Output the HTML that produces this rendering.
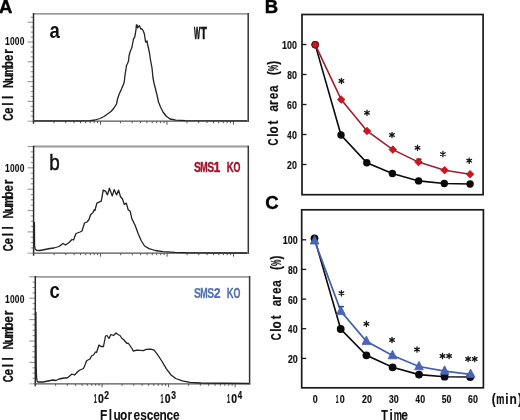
<!DOCTYPE html><html><head><meta charset="utf-8"><style>html,body{margin:0;padding:0;background:#fff;width:520px;height:420px;overflow:hidden}svg{display:block}text{font-family:"Liberation Sans",sans-serif}</style></head><body>
<div style="width:520px;height:420px;will-change:transform"><svg width="520" height="420" viewBox="0 0 520 420">
<rect width="520" height="420" fill="#fff"/>
<text x="-0.9" y="12.6" font-size="18.5" font-weight="bold" stroke="#000" stroke-width="0.4">A</text>
<text x="264.8" y="12.7" font-size="18.5" font-weight="bold" stroke="#000" stroke-width="0.4">B</text>
<text x="265.2" y="209.1" font-size="18.5" font-weight="bold" stroke="#000" stroke-width="0.4">C</text>
<g stroke="#9a9a9a" stroke-width="1.15">
<line x1="30.7" y1="17.2" x2="33.5" y2="17.2"/><line x1="27.5" y1="22.2" x2="33.5" y2="22.2"/><line x1="30.7" y1="27.1" x2="33.5" y2="27.1"/><line x1="30.7" y1="32.1" x2="33.5" y2="32.1"/><line x1="30.7" y1="37.0" x2="33.5" y2="37.0"/><line x1="27.5" y1="42.0" x2="33.5" y2="42.0"/><line x1="30.7" y1="47.0" x2="33.5" y2="47.0"/><line x1="30.7" y1="51.9" x2="33.5" y2="51.9"/><line x1="30.7" y1="56.9" x2="33.5" y2="56.9"/><line x1="27.5" y1="61.8" x2="33.5" y2="61.8"/><line x1="30.7" y1="66.8" x2="33.5" y2="66.8"/><line x1="30.7" y1="71.7" x2="33.5" y2="71.7"/><line x1="30.7" y1="76.7" x2="33.5" y2="76.7"/><line x1="27.5" y1="81.6" x2="33.5" y2="81.6"/><line x1="30.7" y1="86.5" x2="33.5" y2="86.5"/><line x1="30.7" y1="91.5" x2="33.5" y2="91.5"/><line x1="30.7" y1="96.5" x2="33.5" y2="96.5"/><line x1="27.5" y1="101.4" x2="33.5" y2="101.4"/><line x1="30.7" y1="106.4" x2="33.5" y2="106.4"/><line x1="30.7" y1="111.3" x2="33.5" y2="111.3"/><line x1="30.7" y1="116.2" x2="33.5" y2="116.2"/>
</g>
<line x1="27.5" y1="121.2" x2="33.5" y2="121.2" stroke="#a8a8a8" stroke-width="1.1"/>
<g stroke="#555" stroke-width="1">
<line x1="54.0" y1="121.2" x2="54.0" y2="123.2"/><line x1="65.7" y1="121.2" x2="65.7" y2="123.2"/><line x1="74.0" y1="121.2" x2="74.0" y2="123.2"/><line x1="80.5" y1="121.2" x2="80.5" y2="123.2"/><line x1="85.7" y1="121.2" x2="85.7" y2="123.2"/><line x1="90.2" y1="121.2" x2="90.2" y2="123.2"/><line x1="94.1" y1="121.2" x2="94.1" y2="123.2"/><line x1="97.5" y1="121.2" x2="97.5" y2="123.2"/><line x1="100.5" y1="121.2" x2="100.5" y2="124.7"/><line x1="120.5" y1="121.2" x2="120.5" y2="123.2"/><line x1="132.2" y1="121.2" x2="132.2" y2="123.2"/><line x1="140.5" y1="121.2" x2="140.5" y2="123.2"/><line x1="147.0" y1="121.2" x2="147.0" y2="123.2"/><line x1="152.2" y1="121.2" x2="152.2" y2="123.2"/><line x1="156.7" y1="121.2" x2="156.7" y2="123.2"/><line x1="160.6" y1="121.2" x2="160.6" y2="123.2"/><line x1="164.0" y1="121.2" x2="164.0" y2="123.2"/><line x1="167.0" y1="121.2" x2="167.0" y2="124.7"/><line x1="187.0" y1="121.2" x2="187.0" y2="123.2"/><line x1="198.7" y1="121.2" x2="198.7" y2="123.2"/><line x1="207.0" y1="121.2" x2="207.0" y2="123.2"/><line x1="213.5" y1="121.2" x2="213.5" y2="123.2"/><line x1="218.7" y1="121.2" x2="218.7" y2="123.2"/><line x1="223.2" y1="121.2" x2="223.2" y2="123.2"/><line x1="227.1" y1="121.2" x2="227.1" y2="123.2"/><line x1="230.5" y1="121.2" x2="230.5" y2="123.2"/><line x1="233.5" y1="121.2" x2="233.5" y2="124.7"/>
</g>
<line x1="33.5" y1="13.9" x2="248.2" y2="13.9" stroke="#9c9c9c" stroke-width="1.8"/>
<line x1="33.5" y1="13.1" x2="33.5" y2="123.7" stroke="#2a2a2a" stroke-width="1.5"/>
<line x1="248.2" y1="13.1" x2="248.2" y2="121.9" stroke="#333" stroke-width="1.5"/>
<line x1="32.8" y1="121.2" x2="248.9" y2="121.2" stroke="#555" stroke-width="1.3"/>
<polyline fill="none" stroke="#222" stroke-width="1.3" stroke-linejoin="round" points="34.0,120.8 80.0,120.8 90.0,120.6 95.0,120.0 100.0,118.5 104.0,116.5 107.5,114.0 111.0,111.5 114.0,108.0 116.5,104.0 117.5,99.0 119.0,94.5 121.5,89.0 124.0,83.0 124.5,80.0 125.0,75.0 126.0,69.0 126.5,65.5 127.5,63.5 128.5,61.0 129.0,56.0 130.0,52.0 131.5,48.5 132.0,47.0 133.3,40.0 133.6,38.5 134.5,37.8 135.3,34.0 136.0,29.4 136.4,24.9 137.2,25.2 137.6,27.9 138.3,26.8 139.5,25.6 140.2,27.9 141.0,29.0 142.1,29.0 143.3,31.0 144.4,34.0 145.2,39.3 145.6,42.0 146.7,42.0 147.1,40.8 147.5,43.9 148.0,46.0 149.5,53.0 150.5,60.0 152.0,68.0 153.0,78.0 154.0,83.0 155.5,89.0 157.0,95.0 158.5,102.0 160.5,107.0 163.0,112.0 166.0,116.0 170.0,119.0 175.8,120.2 185.4,120.7 247.0,120.9"/>
<text transform="translate(49.6,38.0) scale(0.86,1)" font-size="21.5" font-weight="bold" fill="#111">a</text>
<text transform="translate(193.90,38.50) scale(0.403,1)" font-size="16.30" font-weight="bold" fill="#111" stroke="#111" stroke-width="0.65">W</text><text transform="translate(200.39,38.50) scale(0.645,1)" font-size="16.30" font-weight="bold" fill="#111" stroke="#111" stroke-width="0.65">T</text>
<text transform="translate(4.89,44.80) scale(0.774,1)" font-size="11.00" font-weight="bold" fill="#111" stroke="#111" stroke-width="0.10">1</text><text transform="translate(9.96,44.80) scale(0.766,1)" font-size="11.00" font-weight="bold" fill="#111" stroke="#111" stroke-width="0.10">0</text><text transform="translate(14.86,44.80) scale(0.766,1)" font-size="11.00" font-weight="bold" fill="#111" stroke="#111" stroke-width="0.10">0</text><text transform="translate(19.76,44.80) scale(0.766,1)" font-size="11.00" font-weight="bold" fill="#111" stroke="#111" stroke-width="0.10">0</text>
<g transform="translate(12.70,117.25) rotate(-90)"><text transform="translate(-3.53,0.00) scale(0.687,1)" font-size="14.00" font-weight="bold" fill="#111" stroke="#111" stroke-width="0.30">C</text><text transform="translate(3.27,0.00) scale(0.850,1)" font-size="14.00" font-weight="bold" fill="#111" stroke="#111" stroke-width="0.30">e</text><text transform="translate(11.53,0.00) scale(0.850,1)" font-size="14.00" font-weight="bold" fill="#111" stroke="#111" stroke-width="0.30">l</text><text transform="translate(18.13,0.00) scale(0.850,1)" font-size="14.00" font-weight="bold" fill="#111" stroke="#111" stroke-width="0.30">l</text><text transform="translate(29.16,0.00) scale(0.763,1)" font-size="14.00" font-weight="bold" fill="#111" stroke="#111" stroke-width="0.30">N</text><text transform="translate(36.00,0.00) scale(0.850,1)" font-size="14.00" font-weight="bold" fill="#111" stroke="#111" stroke-width="0.30">u</text><text transform="translate(41.99,0.00) scale(0.672,1)" font-size="14.00" font-weight="bold" fill="#111" stroke="#111" stroke-width="0.30">m</text><text transform="translate(49.02,0.00) scale(0.850,1)" font-size="14.00" font-weight="bold" fill="#111" stroke="#111" stroke-width="0.30">b</text><text transform="translate(56.07,0.00) scale(0.850,1)" font-size="14.00" font-weight="bold" fill="#111" stroke="#111" stroke-width="0.30">e</text><text transform="translate(63.38,0.00) scale(0.850,1)" font-size="14.00" font-weight="bold" fill="#111" stroke="#111" stroke-width="0.30">r</text></g>
<g stroke="#9a9a9a" stroke-width="1.15">
<line x1="27.6" y1="146.5" x2="33.6" y2="146.5"/><line x1="30.8" y1="151.8" x2="33.6" y2="151.8"/><line x1="30.8" y1="157.2" x2="33.6" y2="157.2"/><line x1="30.8" y1="162.5" x2="33.6" y2="162.5"/><line x1="27.6" y1="167.8" x2="33.6" y2="167.8"/><line x1="30.8" y1="173.2" x2="33.6" y2="173.2"/><line x1="30.8" y1="178.5" x2="33.6" y2="178.5"/><line x1="30.8" y1="183.8" x2="33.6" y2="183.8"/><line x1="27.6" y1="189.2" x2="33.6" y2="189.2"/><line x1="30.8" y1="194.5" x2="33.6" y2="194.5"/><line x1="30.8" y1="199.8" x2="33.6" y2="199.8"/><line x1="30.8" y1="205.2" x2="33.6" y2="205.2"/><line x1="27.6" y1="210.5" x2="33.6" y2="210.5"/><line x1="30.8" y1="215.9" x2="33.6" y2="215.9"/><line x1="30.8" y1="221.2" x2="33.6" y2="221.2"/><line x1="30.8" y1="226.5" x2="33.6" y2="226.5"/><line x1="27.6" y1="231.9" x2="33.6" y2="231.9"/><line x1="30.8" y1="237.2" x2="33.6" y2="237.2"/><line x1="30.8" y1="242.5" x2="33.6" y2="242.5"/><line x1="30.8" y1="247.9" x2="33.6" y2="247.9"/>
</g>
<line x1="27.6" y1="253.2" x2="33.6" y2="253.2" stroke="#a8a8a8" stroke-width="1.1"/>
<g stroke="#555" stroke-width="1">
<line x1="54.1" y1="253.2" x2="54.1" y2="255.2"/><line x1="65.8" y1="253.2" x2="65.8" y2="255.2"/><line x1="74.1" y1="253.2" x2="74.1" y2="255.2"/><line x1="80.6" y1="253.2" x2="80.6" y2="255.2"/><line x1="85.8" y1="253.2" x2="85.8" y2="255.2"/><line x1="90.3" y1="253.2" x2="90.3" y2="255.2"/><line x1="94.2" y1="253.2" x2="94.2" y2="255.2"/><line x1="97.6" y1="253.2" x2="97.6" y2="255.2"/><line x1="100.6" y1="253.2" x2="100.6" y2="256.7"/><line x1="120.6" y1="253.2" x2="120.6" y2="255.2"/><line x1="132.3" y1="253.2" x2="132.3" y2="255.2"/><line x1="140.6" y1="253.2" x2="140.6" y2="255.2"/><line x1="147.1" y1="253.2" x2="147.1" y2="255.2"/><line x1="152.3" y1="253.2" x2="152.3" y2="255.2"/><line x1="156.8" y1="253.2" x2="156.8" y2="255.2"/><line x1="160.7" y1="253.2" x2="160.7" y2="255.2"/><line x1="164.1" y1="253.2" x2="164.1" y2="255.2"/><line x1="167.1" y1="253.2" x2="167.1" y2="256.7"/><line x1="187.1" y1="253.2" x2="187.1" y2="255.2"/><line x1="198.8" y1="253.2" x2="198.8" y2="255.2"/><line x1="207.1" y1="253.2" x2="207.1" y2="255.2"/><line x1="213.6" y1="253.2" x2="213.6" y2="255.2"/><line x1="218.8" y1="253.2" x2="218.8" y2="255.2"/><line x1="223.3" y1="253.2" x2="223.3" y2="255.2"/><line x1="227.2" y1="253.2" x2="227.2" y2="255.2"/><line x1="230.6" y1="253.2" x2="230.6" y2="255.2"/><line x1="233.6" y1="253.2" x2="233.6" y2="256.7"/>
</g>
<line x1="33.6" y1="146.5" x2="248.3" y2="146.5" stroke="#9c9c9c" stroke-width="1.8"/>
<line x1="33.6" y1="145.7" x2="33.6" y2="255.7" stroke="#2a2a2a" stroke-width="1.5"/>
<line x1="248.3" y1="145.7" x2="248.3" y2="253.9" stroke="#333" stroke-width="1.5"/>
<line x1="32.9" y1="253.2" x2="249.0" y2="253.2" stroke="#555" stroke-width="1.3"/>
<polyline fill="none" stroke="#222" stroke-width="1.3" stroke-linejoin="round" points="34.4,222.0 34.6,246.0 35.2,249.2 36.5,250.3 40.0,250.5 45.0,249.5 50.0,248.5 54.0,248.0 59.0,246.5 63.0,243.5 65.5,245.0 69.0,242.5 72.0,239.5 73.5,240.0 76.0,233.5 80.0,232.0 82.0,231.0 84.5,223.0 87.0,222.0 89.0,219.5 90.5,215.0 93.0,212.4 94.3,209.8 94.9,210.5 96.9,203.2 101.3,201.2 103.2,190.1 105.6,191.1 107.5,194.9 109.4,188.2 112.3,195.9 114.2,189.6 116.6,194.9 118.6,190.1 120.5,196.8 122.4,198.8 124.3,204.5 126.3,203.1 128.2,209.8 130.2,211.3 131.9,218.9 135.1,225.2 138.3,234.0 141.4,241.0 144.6,246.0 149.0,248.6 155.3,250.5 162.9,251.7 175.0,252.4 190.0,252.8 247.0,253.0"/>
<text transform="translate(49.3,169.8) scale(0.88,1)" font-size="21.5" fill="#111" stroke="#111" stroke-width="0.45">b</text>
<text transform="translate(193.99,172.00) scale(0.713,1)" font-size="14.50" font-weight="bold" fill="#a3132b" stroke="#a3132b" stroke-width="0.40">S</text><text transform="translate(200.32,172.00) scale(0.611,1)" font-size="14.50" font-weight="bold" fill="#a3132b" stroke="#a3132b" stroke-width="0.40">M</text><text transform="translate(207.19,172.00) scale(0.713,1)" font-size="14.50" font-weight="bold" fill="#a3132b" stroke="#a3132b" stroke-width="0.40">S</text><text transform="translate(213.56,172.00) scale(0.850,1)" font-size="14.50" font-weight="bold" fill="#a3132b" stroke="#a3132b" stroke-width="0.40">1</text><text transform="translate(226.68,172.00) scale(0.663,1)" font-size="14.50" font-weight="bold" fill="#a3132b" stroke="#a3132b" stroke-width="0.40">K</text><text transform="translate(233.54,172.00) scale(0.615,1)" font-size="14.50" font-weight="bold" fill="#a3132b" stroke="#a3132b" stroke-width="0.40">O</text>
<text transform="translate(4.89,171.90) scale(0.774,1)" font-size="11.00" font-weight="bold" fill="#111" stroke="#111" stroke-width="0.10">1</text><text transform="translate(9.96,171.90) scale(0.766,1)" font-size="11.00" font-weight="bold" fill="#111" stroke="#111" stroke-width="0.10">0</text><text transform="translate(14.86,171.90) scale(0.766,1)" font-size="11.00" font-weight="bold" fill="#111" stroke="#111" stroke-width="0.10">0</text><text transform="translate(19.76,171.90) scale(0.766,1)" font-size="11.00" font-weight="bold" fill="#111" stroke="#111" stroke-width="0.10">0</text>
<g transform="translate(12.70,247.75) rotate(-90)"><text transform="translate(-3.53,0.00) scale(0.687,1)" font-size="14.00" font-weight="bold" fill="#111" stroke="#111" stroke-width="0.30">C</text><text transform="translate(3.27,0.00) scale(0.850,1)" font-size="14.00" font-weight="bold" fill="#111" stroke="#111" stroke-width="0.30">e</text><text transform="translate(11.53,0.00) scale(0.850,1)" font-size="14.00" font-weight="bold" fill="#111" stroke="#111" stroke-width="0.30">l</text><text transform="translate(18.13,0.00) scale(0.850,1)" font-size="14.00" font-weight="bold" fill="#111" stroke="#111" stroke-width="0.30">l</text><text transform="translate(29.16,0.00) scale(0.763,1)" font-size="14.00" font-weight="bold" fill="#111" stroke="#111" stroke-width="0.30">N</text><text transform="translate(36.00,0.00) scale(0.850,1)" font-size="14.00" font-weight="bold" fill="#111" stroke="#111" stroke-width="0.30">u</text><text transform="translate(41.99,0.00) scale(0.672,1)" font-size="14.00" font-weight="bold" fill="#111" stroke="#111" stroke-width="0.30">m</text><text transform="translate(49.02,0.00) scale(0.850,1)" font-size="14.00" font-weight="bold" fill="#111" stroke="#111" stroke-width="0.30">b</text><text transform="translate(56.07,0.00) scale(0.850,1)" font-size="14.00" font-weight="bold" fill="#111" stroke="#111" stroke-width="0.30">e</text><text transform="translate(63.38,0.00) scale(0.850,1)" font-size="14.00" font-weight="bold" fill="#111" stroke="#111" stroke-width="0.30">r</text></g>
<g stroke="#9a9a9a" stroke-width="1.15">
<line x1="29.3" y1="276.8" x2="35.3" y2="276.8"/><line x1="32.5" y1="282.2" x2="35.3" y2="282.2"/><line x1="32.5" y1="287.5" x2="35.3" y2="287.5"/><line x1="32.5" y1="292.9" x2="35.3" y2="292.9"/><line x1="29.3" y1="298.2" x2="35.3" y2="298.2"/><line x1="32.5" y1="303.6" x2="35.3" y2="303.6"/><line x1="32.5" y1="308.9" x2="35.3" y2="308.9"/><line x1="32.5" y1="314.2" x2="35.3" y2="314.2"/><line x1="29.3" y1="319.6" x2="35.3" y2="319.6"/><line x1="32.5" y1="324.9" x2="35.3" y2="324.9"/><line x1="32.5" y1="330.3" x2="35.3" y2="330.3"/><line x1="32.5" y1="335.6" x2="35.3" y2="335.6"/><line x1="29.3" y1="341.0" x2="35.3" y2="341.0"/><line x1="32.5" y1="346.4" x2="35.3" y2="346.4"/><line x1="32.5" y1="351.7" x2="35.3" y2="351.7"/><line x1="32.5" y1="357.1" x2="35.3" y2="357.1"/><line x1="29.3" y1="362.4" x2="35.3" y2="362.4"/><line x1="32.5" y1="367.8" x2="35.3" y2="367.8"/><line x1="32.5" y1="373.1" x2="35.3" y2="373.1"/><line x1="32.5" y1="378.4" x2="35.3" y2="378.4"/>
</g>
<line x1="29.3" y1="383.8" x2="35.3" y2="383.8" stroke="#a8a8a8" stroke-width="1.1"/>
<g stroke="#555" stroke-width="1">
<line x1="55.6" y1="383.8" x2="55.6" y2="385.8"/><line x1="67.3" y1="383.8" x2="67.3" y2="385.8"/><line x1="75.6" y1="383.8" x2="75.6" y2="385.8"/><line x1="82.1" y1="383.8" x2="82.1" y2="385.8"/><line x1="87.3" y1="383.8" x2="87.3" y2="385.8"/><line x1="91.8" y1="383.8" x2="91.8" y2="385.8"/><line x1="95.7" y1="383.8" x2="95.7" y2="385.8"/><line x1="99.1" y1="383.8" x2="99.1" y2="385.8"/><line x1="102.1" y1="383.8" x2="102.1" y2="387.3"/><line x1="122.1" y1="383.8" x2="122.1" y2="385.8"/><line x1="133.8" y1="383.8" x2="133.8" y2="385.8"/><line x1="142.1" y1="383.8" x2="142.1" y2="385.8"/><line x1="148.6" y1="383.8" x2="148.6" y2="385.8"/><line x1="153.8" y1="383.8" x2="153.8" y2="385.8"/><line x1="158.3" y1="383.8" x2="158.3" y2="385.8"/><line x1="162.2" y1="383.8" x2="162.2" y2="385.8"/><line x1="165.6" y1="383.8" x2="165.6" y2="385.8"/><line x1="168.6" y1="383.8" x2="168.6" y2="387.3"/><line x1="188.6" y1="383.8" x2="188.6" y2="385.8"/><line x1="200.3" y1="383.8" x2="200.3" y2="385.8"/><line x1="208.6" y1="383.8" x2="208.6" y2="385.8"/><line x1="215.1" y1="383.8" x2="215.1" y2="385.8"/><line x1="220.3" y1="383.8" x2="220.3" y2="385.8"/><line x1="224.8" y1="383.8" x2="224.8" y2="385.8"/><line x1="228.7" y1="383.8" x2="228.7" y2="385.8"/><line x1="232.1" y1="383.8" x2="232.1" y2="385.8"/><line x1="235.1" y1="383.8" x2="235.1" y2="387.3"/>
</g>
<line x1="35.3" y1="276.8" x2="249.6" y2="276.8" stroke="#9c9c9c" stroke-width="1.8"/>
<line x1="35.3" y1="276.0" x2="35.3" y2="386.3" stroke="#2a2a2a" stroke-width="1.5"/>
<line x1="249.6" y1="276.0" x2="249.6" y2="384.5" stroke="#333" stroke-width="1.5"/>
<line x1="34.6" y1="383.8" x2="250.3" y2="383.8" stroke="#555" stroke-width="1.3"/>
<polyline fill="none" stroke="#222" stroke-width="1.3" stroke-linejoin="round" points="35.9,312.0 36.2,366.0 36.5,376.0 37.0,381.0 38.0,382.0 43.0,382.0 48.0,381.0 53.0,380.0 56.0,380.5 59.0,379.0 64.0,378.0 67.0,378.0 69.0,376.5 72.0,374.0 74.5,375.0 78.0,371.5 80.0,370.0 83.5,368.5 85.0,365.0 86.5,361.0 87.0,360.5 90.0,359.0 91.5,356.0 93.5,355.0 95.5,352.0 96.5,352.5 99.0,345.0 101.0,346.5 103.5,346.5 105.5,336.0 107.0,335.5 109.0,338.5 111.0,334.5 113.5,335.5 116.0,333.0 118.0,334.5 120.0,335.5 122.0,338.5 124.0,340.0 126.5,343.0 128.5,343.5 132.0,348.5 133.2,351.0 137.0,350.2 143.2,350.7 146.3,349.4 151.0,349.1 154.1,350.2 157.2,354.1 161.8,361.0 166.4,368.8 171.1,375.0 175.7,378.5 182.3,380.8 190.0,382.3 200.8,383.0 249.0,383.5"/>
<text transform="translate(49.4,298.0) scale(0.86,1)" font-size="21.5" font-weight="bold" fill="#111">c</text>
<text transform="translate(193.99,298.20) scale(0.713,1)" font-size="14.50" font-weight="bold" fill="#5272ad" stroke="#5272ad" stroke-width="0.25">S</text><text transform="translate(200.32,298.20) scale(0.611,1)" font-size="14.50" font-weight="bold" fill="#5272ad" stroke="#5272ad" stroke-width="0.25">M</text><text transform="translate(207.19,298.20) scale(0.713,1)" font-size="14.50" font-weight="bold" fill="#5272ad" stroke="#5272ad" stroke-width="0.25">S</text><text transform="translate(213.81,298.20) scale(0.850,1)" font-size="14.50" font-weight="bold" fill="#5272ad" stroke="#5272ad" stroke-width="0.25">2</text><text transform="translate(226.68,298.20) scale(0.663,1)" font-size="14.50" font-weight="bold" fill="#5272ad" stroke="#5272ad" stroke-width="0.25">K</text><text transform="translate(233.54,298.20) scale(0.615,1)" font-size="14.50" font-weight="bold" fill="#5272ad" stroke="#5272ad" stroke-width="0.25">O</text>
<text transform="translate(4.89,302.80) scale(0.774,1)" font-size="11.00" font-weight="bold" fill="#111" stroke="#111" stroke-width="0.10">1</text><text transform="translate(9.96,302.80) scale(0.766,1)" font-size="11.00" font-weight="bold" fill="#111" stroke="#111" stroke-width="0.10">0</text><text transform="translate(14.86,302.80) scale(0.766,1)" font-size="11.00" font-weight="bold" fill="#111" stroke="#111" stroke-width="0.10">0</text><text transform="translate(19.76,302.80) scale(0.766,1)" font-size="11.00" font-weight="bold" fill="#111" stroke="#111" stroke-width="0.10">0</text>
<g transform="translate(12.70,378.75) rotate(-90)"><text transform="translate(-3.53,0.00) scale(0.687,1)" font-size="14.00" font-weight="bold" fill="#111" stroke="#111" stroke-width="0.30">C</text><text transform="translate(3.27,0.00) scale(0.850,1)" font-size="14.00" font-weight="bold" fill="#111" stroke="#111" stroke-width="0.30">e</text><text transform="translate(11.53,0.00) scale(0.850,1)" font-size="14.00" font-weight="bold" fill="#111" stroke="#111" stroke-width="0.30">l</text><text transform="translate(18.13,0.00) scale(0.850,1)" font-size="14.00" font-weight="bold" fill="#111" stroke="#111" stroke-width="0.30">l</text><text transform="translate(29.16,0.00) scale(0.763,1)" font-size="14.00" font-weight="bold" fill="#111" stroke="#111" stroke-width="0.30">N</text><text transform="translate(36.00,0.00) scale(0.850,1)" font-size="14.00" font-weight="bold" fill="#111" stroke="#111" stroke-width="0.30">u</text><text transform="translate(41.99,0.00) scale(0.672,1)" font-size="14.00" font-weight="bold" fill="#111" stroke="#111" stroke-width="0.30">m</text><text transform="translate(49.02,0.00) scale(0.850,1)" font-size="14.00" font-weight="bold" fill="#111" stroke="#111" stroke-width="0.30">b</text><text transform="translate(56.07,0.00) scale(0.850,1)" font-size="14.00" font-weight="bold" fill="#111" stroke="#111" stroke-width="0.30">e</text><text transform="translate(63.38,0.00) scale(0.850,1)" font-size="14.00" font-weight="bold" fill="#111" stroke="#111" stroke-width="0.30">r</text></g>
<text transform="translate(93.67,402.60) scale(0.450,1)" font-size="12.30" font-weight="bold" fill="#111" stroke="#111" stroke-width="0.20">1</text><text transform="translate(98.00,402.60) scale(0.850,1)" font-size="12.30" font-weight="bold" fill="#111" stroke="#111" stroke-width="0.20">0</text>
<text transform="translate(104.36,398.80) scale(0.850,1)" font-size="10.00" font-weight="bold" fill="#111" stroke="#111" stroke-width="0.25">2</text>
<text transform="translate(160.47,402.60) scale(0.450,1)" font-size="12.30" font-weight="bold" fill="#111" stroke="#111" stroke-width="0.20">1</text><text transform="translate(164.80,402.60) scale(0.850,1)" font-size="12.30" font-weight="bold" fill="#111" stroke="#111" stroke-width="0.20">0</text>
<text transform="translate(171.19,398.80) scale(0.848,1)" font-size="10.00" font-weight="bold" fill="#111" stroke="#111" stroke-width="0.25">3</text>
<text transform="translate(226.97,402.60) scale(0.450,1)" font-size="12.30" font-weight="bold" fill="#111" stroke="#111" stroke-width="0.20">1</text><text transform="translate(231.30,402.60) scale(0.850,1)" font-size="12.30" font-weight="bold" fill="#111" stroke="#111" stroke-width="0.20">0</text>
<text transform="translate(237.78,398.80) scale(0.785,1)" font-size="10.00" font-weight="bold" fill="#111" stroke="#111" stroke-width="0.25">4</text>
<text transform="translate(99.99,419.70) scale(0.850,1)" font-size="14.00" font-weight="bold" fill="#111" stroke="#111" stroke-width="0.10">F</text><text transform="translate(108.73,419.70) scale(0.850,1)" font-size="14.00" font-weight="bold" fill="#111" stroke="#111" stroke-width="0.10">l</text><text transform="translate(113.40,419.70) scale(0.850,1)" font-size="14.00" font-weight="bold" fill="#111" stroke="#111" stroke-width="0.10">u</text><text transform="translate(119.97,419.70) scale(0.849,1)" font-size="14.00" font-weight="bold" fill="#111" stroke="#111" stroke-width="0.10">o</text><text transform="translate(127.58,419.70) scale(0.850,1)" font-size="14.00" font-weight="bold" fill="#111" stroke="#111" stroke-width="0.10">r</text><text transform="translate(133.47,419.70) scale(0.850,1)" font-size="14.00" font-weight="bold" fill="#111" stroke="#111" stroke-width="0.10">e</text><text transform="translate(140.13,419.70) scale(0.850,1)" font-size="14.00" font-weight="bold" fill="#111" stroke="#111" stroke-width="0.10">s</text><text transform="translate(146.64,419.70) scale(0.850,1)" font-size="14.00" font-weight="bold" fill="#111" stroke="#111" stroke-width="0.10">c</text><text transform="translate(153.27,419.70) scale(0.850,1)" font-size="14.00" font-weight="bold" fill="#111" stroke="#111" stroke-width="0.10">e</text><text transform="translate(159.54,419.70) scale(0.850,1)" font-size="14.00" font-weight="bold" fill="#111" stroke="#111" stroke-width="0.10">n</text><text transform="translate(166.44,419.70) scale(0.850,1)" font-size="14.00" font-weight="bold" fill="#111" stroke="#111" stroke-width="0.10">c</text><text transform="translate(173.07,419.70) scale(0.850,1)" font-size="14.00" font-weight="bold" fill="#111" stroke="#111" stroke-width="0.10">e</text>
<rect x="302.0" y="14.5" width="181.1" height="180.2" fill="none" stroke="#1a1a1a" stroke-width="1.7"/>
<g stroke="#1a1a1a" stroke-width="1.3">
<line x1="302.0" y1="164.5" x2="306.5" y2="164.5"/>
<line x1="302.0" y1="134.5" x2="306.5" y2="134.5"/>
<line x1="302.0" y1="104.5" x2="306.5" y2="104.5"/>
<line x1="302.0" y1="74.5" x2="306.5" y2="74.5"/>
<line x1="302.0" y1="44.5" x2="306.5" y2="44.5"/>
</g>
<text transform="translate(287.09,168.50) scale(0.795,1)" font-size="11.00" font-weight="bold" fill="#111" stroke="#111" stroke-width="0.20">2</text><text transform="translate(291.95,168.50) scale(0.804,1)" font-size="11.00" font-weight="bold" fill="#111" stroke="#111" stroke-width="0.20">0</text>
<text transform="translate(287.28,138.50) scale(0.714,1)" font-size="11.00" font-weight="bold" fill="#111" stroke="#111" stroke-width="0.20">4</text><text transform="translate(291.95,138.50) scale(0.804,1)" font-size="11.00" font-weight="bold" fill="#111" stroke="#111" stroke-width="0.20">0</text>
<text transform="translate(287.10,108.50) scale(0.787,1)" font-size="11.00" font-weight="bold" fill="#111" stroke="#111" stroke-width="0.20">6</text><text transform="translate(291.95,108.50) scale(0.804,1)" font-size="11.00" font-weight="bold" fill="#111" stroke="#111" stroke-width="0.20">0</text>
<text transform="translate(287.15,78.50) scale(0.771,1)" font-size="11.00" font-weight="bold" fill="#111" stroke="#111" stroke-width="0.20">8</text><text transform="translate(291.95,78.50) scale(0.804,1)" font-size="11.00" font-weight="bold" fill="#111" stroke="#111" stroke-width="0.20">0</text>
<text transform="translate(281.96,48.50) scale(0.812,1)" font-size="11.00" font-weight="bold" fill="#111" stroke="#111" stroke-width="0.20">1</text><text transform="translate(287.05,48.50) scale(0.804,1)" font-size="11.00" font-weight="bold" fill="#111" stroke="#111" stroke-width="0.20">0</text><text transform="translate(291.95,48.50) scale(0.804,1)" font-size="11.00" font-weight="bold" fill="#111" stroke="#111" stroke-width="0.20">0</text>
<g transform="translate(278.20,141.90) rotate(-90)"><text transform="translate(-3.53,0.00) scale(0.687,1)" font-size="14.00" font-weight="bold" fill="#111" stroke="#111" stroke-width="0.20">C</text><text transform="translate(5.03,0.00) scale(0.850,1)" font-size="14.00" font-weight="bold" fill="#111" stroke="#111" stroke-width="0.20">l</text><text transform="translate(8.37,0.00) scale(0.849,1)" font-size="14.00" font-weight="bold" fill="#111" stroke="#111" stroke-width="0.20">o</text><text transform="translate(17.44,0.00) scale(0.850,1)" font-size="14.00" font-weight="bold" fill="#111" stroke="#111" stroke-width="0.20">t</text><text transform="translate(30.40,0.00) scale(0.841,1)" font-size="14.00" font-weight="bold" fill="#111" stroke="#111" stroke-width="0.20">a</text><text transform="translate(36.98,0.00) scale(0.850,1)" font-size="14.00" font-weight="bold" fill="#111" stroke="#111" stroke-width="0.20">r</text><text transform="translate(42.77,0.00) scale(0.850,1)" font-size="14.00" font-weight="bold" fill="#111" stroke="#111" stroke-width="0.20">e</text><text transform="translate(49.90,0.00) scale(0.841,1)" font-size="14.00" font-weight="bold" fill="#111" stroke="#111" stroke-width="0.20">a</text><text transform="translate(66.64,0.00) scale(0.850,1)" font-size="14.00" font-weight="bold" fill="#111" stroke="#111" stroke-width="0.20">(</text><text transform="translate(70.72,0.00) scale(0.510,1)" font-size="14.00" font-weight="bold" fill="#111" stroke="#111" stroke-width="0.20">%</text><text transform="translate(77.20,0.00) scale(0.850,1)" font-size="14.00" font-weight="bold" fill="#111" stroke="#111" stroke-width="0.20">)</text></g>
<polyline fill="none" stroke="#0a0a0a" stroke-width="1.6" points="315.2,44.6 341.0,135.0 366.8,162.8 392.4,173.5 418.6,180.9 444.3,183.5 470.1,184.0"/>
<circle cx="315.2" cy="44.6" r="3.7" fill="#0a0a0a"/>
<circle cx="341.0" cy="135.0" r="3.7" fill="#0a0a0a"/>
<circle cx="366.8" cy="162.8" r="3.7" fill="#0a0a0a"/>
<circle cx="392.4" cy="173.5" r="3.7" fill="#0a0a0a"/>
<circle cx="418.6" cy="180.9" r="3.7" fill="#0a0a0a"/>
<circle cx="444.3" cy="183.5" r="3.7" fill="#0a0a0a"/>
<circle cx="470.1" cy="184.0" r="3.7" fill="#0a0a0a"/>
<polyline fill="none" stroke="#a01e2c" stroke-width="1.6" points="315.2,44.7 341.2,99.6 367.0,131.0 392.8,149.6 418.5,162.1 444.6,170.2 470.1,174.2"/>
<line x1="416.4" y1="159.2" x2="421.4" y2="159.2" stroke="#6a1420" stroke-width="1.6"/>
<circle cx="315.2" cy="44.8" r="3.4" fill="#c81a1e" stroke="#6a0c0c" stroke-width="1.0"/>
<path d="M341.2,95.8L345.0,99.6L341.2,103.4L337.4,99.6Z" fill="#d0141c" stroke="#a81020" stroke-width="0.7" stroke-linejoin="round"/>
<path d="M367.0,127.2L370.8,131.0L367.0,134.8L363.2,131.0Z" fill="#d0141c" stroke="#a81020" stroke-width="0.7" stroke-linejoin="round"/>
<path d="M392.8,145.8L396.6,149.6L392.8,153.4L389.0,149.6Z" fill="#d0141c" stroke="#a81020" stroke-width="0.7" stroke-linejoin="round"/>
<path d="M418.5,158.3L422.3,162.1L418.5,165.9L414.7,162.1Z" fill="#d0141c" stroke="#a81020" stroke-width="0.7" stroke-linejoin="round"/>
<path d="M444.6,166.4L448.4,170.2L444.6,174.0L440.8,170.2Z" fill="#d0141c" stroke="#a81020" stroke-width="0.7" stroke-linejoin="round"/>
<path d="M470.1,170.4L473.9,174.2L470.1,178.0L466.3,174.2Z" fill="#d0141c" stroke="#a81020" stroke-width="0.7" stroke-linejoin="round"/>
<path d="M341.40,78.30L341.40,83.70M339.06,79.65L343.74,82.35M343.74,79.65L339.06,82.35" stroke="#151515" stroke-width="1.25" stroke-linecap="round"/>
<path d="M367.00,110.10L367.00,115.50M364.66,111.45L369.34,114.15M369.34,111.45L364.66,114.15" stroke="#151515" stroke-width="1.25" stroke-linecap="round"/>
<path d="M392.00,132.30L392.00,137.70M389.66,133.65L394.34,136.35M394.34,133.65L389.66,136.35" stroke="#151515" stroke-width="1.25" stroke-linecap="round"/>
<path d="M417.50,145.10L417.50,150.50M415.16,146.45L419.84,149.15M419.84,146.45L415.16,149.15" stroke="#151515" stroke-width="1.25" stroke-linecap="round"/>
<path d="M442.90,151.40L442.90,156.80M440.56,152.75L445.24,155.45M445.24,152.75L440.56,155.45" stroke="#151515" stroke-width="1.25" stroke-linecap="round"/>
<path d="M469.20,158.00L469.20,163.40M466.86,159.35L471.54,162.05M471.54,159.35L466.86,162.05" stroke="#151515" stroke-width="1.25" stroke-linecap="round"/>
<rect x="301.7" y="209.8" width="181.7" height="178.0" fill="none" stroke="#1a1a1a" stroke-width="1.7"/>
<g stroke="#1a1a1a" stroke-width="1.3">
<line x1="301.7" y1="358.4" x2="306.2" y2="358.4"/>
<line x1="301.7" y1="328.7" x2="306.2" y2="328.7"/>
<line x1="301.7" y1="299.1" x2="306.2" y2="299.1"/>
<line x1="301.7" y1="269.4" x2="306.2" y2="269.4"/>
<line x1="301.7" y1="239.8" x2="306.2" y2="239.8"/>
</g>
<text transform="translate(287.89,362.96) scale(0.795,1)" font-size="11.00" font-weight="bold" fill="#111" stroke="#111" stroke-width="0.20">2</text><text transform="translate(292.75,362.96) scale(0.804,1)" font-size="11.00" font-weight="bold" fill="#111" stroke="#111" stroke-width="0.20">0</text>
<text transform="translate(288.08,333.32) scale(0.714,1)" font-size="11.00" font-weight="bold" fill="#111" stroke="#111" stroke-width="0.20">4</text><text transform="translate(292.75,333.32) scale(0.804,1)" font-size="11.00" font-weight="bold" fill="#111" stroke="#111" stroke-width="0.20">0</text>
<text transform="translate(287.90,303.68) scale(0.787,1)" font-size="11.00" font-weight="bold" fill="#111" stroke="#111" stroke-width="0.20">6</text><text transform="translate(292.75,303.68) scale(0.804,1)" font-size="11.00" font-weight="bold" fill="#111" stroke="#111" stroke-width="0.20">0</text>
<text transform="translate(287.95,274.04) scale(0.771,1)" font-size="11.00" font-weight="bold" fill="#111" stroke="#111" stroke-width="0.20">8</text><text transform="translate(292.75,274.04) scale(0.804,1)" font-size="11.00" font-weight="bold" fill="#111" stroke="#111" stroke-width="0.20">0</text>
<text transform="translate(282.76,244.40) scale(0.812,1)" font-size="11.00" font-weight="bold" fill="#111" stroke="#111" stroke-width="0.20">1</text><text transform="translate(287.85,244.40) scale(0.804,1)" font-size="11.00" font-weight="bold" fill="#111" stroke="#111" stroke-width="0.20">0</text><text transform="translate(292.75,244.40) scale(0.804,1)" font-size="11.00" font-weight="bold" fill="#111" stroke="#111" stroke-width="0.20">0</text>
<g transform="translate(281.20,336.75) rotate(-90)"><text transform="translate(-3.53,0.00) scale(0.687,1)" font-size="14.00" font-weight="bold" fill="#111" stroke="#111" stroke-width="0.20">C</text><text transform="translate(5.03,0.00) scale(0.850,1)" font-size="14.00" font-weight="bold" fill="#111" stroke="#111" stroke-width="0.20">l</text><text transform="translate(8.37,0.00) scale(0.849,1)" font-size="14.00" font-weight="bold" fill="#111" stroke="#111" stroke-width="0.20">o</text><text transform="translate(17.44,0.00) scale(0.850,1)" font-size="14.00" font-weight="bold" fill="#111" stroke="#111" stroke-width="0.20">t</text><text transform="translate(30.40,0.00) scale(0.841,1)" font-size="14.00" font-weight="bold" fill="#111" stroke="#111" stroke-width="0.20">a</text><text transform="translate(36.98,0.00) scale(0.850,1)" font-size="14.00" font-weight="bold" fill="#111" stroke="#111" stroke-width="0.20">r</text><text transform="translate(42.77,0.00) scale(0.850,1)" font-size="14.00" font-weight="bold" fill="#111" stroke="#111" stroke-width="0.20">e</text><text transform="translate(49.90,0.00) scale(0.841,1)" font-size="14.00" font-weight="bold" fill="#111" stroke="#111" stroke-width="0.20">a</text><text transform="translate(66.64,0.00) scale(0.850,1)" font-size="14.00" font-weight="bold" fill="#111" stroke="#111" stroke-width="0.20">(</text><text transform="translate(70.72,0.00) scale(0.510,1)" font-size="14.00" font-weight="bold" fill="#111" stroke="#111" stroke-width="0.20">%</text><text transform="translate(77.20,0.00) scale(0.850,1)" font-size="14.00" font-weight="bold" fill="#111" stroke="#111" stroke-width="0.20">)</text></g>
<polyline fill="none" stroke="#0a0a0a" stroke-width="1.6" points="314.5,238.3 340.7,329.0 366.4,355.3 392.6,367.3 419.0,374.6 444.6,376.7 470.2,377.0"/>
<circle cx="314.5" cy="238.3" r="3.9" fill="#0a0a0a"/>
<circle cx="340.7" cy="329.0" r="3.9" fill="#0a0a0a"/>
<circle cx="366.4" cy="355.3" r="3.9" fill="#0a0a0a"/>
<circle cx="392.6" cy="367.3" r="3.9" fill="#0a0a0a"/>
<circle cx="419.0" cy="374.6" r="3.9" fill="#0a0a0a"/>
<circle cx="444.6" cy="376.7" r="3.9" fill="#0a0a0a"/>
<circle cx="470.2" cy="377.0" r="3.9" fill="#0a0a0a"/>
<polyline fill="none" stroke="#4660b0" stroke-width="1.75" points="314.6,240.8 340.9,311.3 366.4,341.3 392.5,355.5 419.0,366.5 444.6,371.1 470.6,374.3"/>
<line x1="338.6" y1="306.6" x2="343.9" y2="306.6" stroke="#2c3c7a" stroke-width="1.5"/>
<path d="M314.6,235.5L319.0,244.1L310.2,244.1Z" fill="#4a66bb" stroke="#3c54a0" stroke-width="0.7" stroke-linejoin="round"/>
<path d="M340.9,306.0L345.3,314.6L336.5,314.6Z" fill="#4a66bb" stroke="#3c54a0" stroke-width="0.7" stroke-linejoin="round"/>
<path d="M366.4,336.0L370.8,344.6L362.0,344.6Z" fill="#4a66bb" stroke="#3c54a0" stroke-width="0.7" stroke-linejoin="round"/>
<path d="M392.5,350.2L396.9,358.8L388.1,358.8Z" fill="#4a66bb" stroke="#3c54a0" stroke-width="0.7" stroke-linejoin="round"/>
<path d="M419.0,361.2L423.4,369.8L414.6,369.8Z" fill="#4a66bb" stroke="#3c54a0" stroke-width="0.7" stroke-linejoin="round"/>
<path d="M444.6,365.8L449.0,374.4L440.2,374.4Z" fill="#4a66bb" stroke="#3c54a0" stroke-width="0.7" stroke-linejoin="round"/>
<path d="M470.6,369.0L475.0,377.6L466.2,377.6Z" fill="#4a66bb" stroke="#3c54a0" stroke-width="0.7" stroke-linejoin="round"/>
<path d="M341.40,290.50L341.40,295.90M339.06,291.85L343.74,294.55M343.74,291.85L339.06,294.55" stroke="#151515" stroke-width="1.25" stroke-linecap="round"/>
<path d="M366.40,321.10L366.40,326.50M364.06,322.45L368.74,325.15M368.74,322.45L364.06,325.15" stroke="#151515" stroke-width="1.25" stroke-linecap="round"/>
<path d="M392.00,337.30L392.00,342.70M389.66,338.65L394.34,341.35M394.34,338.65L389.66,341.35" stroke="#151515" stroke-width="1.25" stroke-linecap="round"/>
<path d="M417.00,346.80L417.00,352.20M414.66,348.15L419.34,350.85M419.34,348.15L414.66,350.85" stroke="#151515" stroke-width="1.25" stroke-linecap="round"/>
<path d="M442.50,353.30L442.50,358.70M440.16,354.65L444.84,357.35M444.84,354.65L440.16,357.35" stroke="#151515" stroke-width="1.25" stroke-linecap="round"/>
<path d="M449.10,353.30L449.10,358.70M446.76,354.65L451.44,357.35M451.44,354.65L446.76,357.35" stroke="#151515" stroke-width="1.25" stroke-linecap="round"/>
<path d="M468.10,356.30L468.10,361.70M465.76,357.65L470.44,360.35M470.44,357.65L465.76,360.35" stroke="#151515" stroke-width="1.25" stroke-linecap="round"/>
<path d="M474.70,356.30L474.70,361.70M472.36,357.65L477.04,360.35M477.04,357.65L472.36,360.35" stroke="#151515" stroke-width="1.25" stroke-linecap="round"/>
<text transform="translate(312.80,402.60) scale(0.834,1)" font-size="10.60" font-weight="bold" fill="#111" stroke="#111" stroke-width="0.20">0</text>
<text transform="translate(335.74,402.60) scale(0.482,1)" font-size="10.60" font-weight="bold" fill="#111" stroke="#111" stroke-width="0.20">1</text><text transform="translate(339.80,402.60) scale(0.834,1)" font-size="10.60" font-weight="bold" fill="#111" stroke="#111" stroke-width="0.20">0</text>
<text transform="translate(362.09,402.60) scale(0.825,1)" font-size="10.60" font-weight="bold" fill="#111" stroke="#111" stroke-width="0.20">2</text><text transform="translate(367.05,402.60) scale(0.834,1)" font-size="10.60" font-weight="bold" fill="#111" stroke="#111" stroke-width="0.20">0</text>
<text transform="translate(388.99,402.60) scale(0.800,1)" font-size="10.60" font-weight="bold" fill="#111" stroke="#111" stroke-width="0.20">3</text><text transform="translate(393.85,402.60) scale(0.834,1)" font-size="10.60" font-weight="bold" fill="#111" stroke="#111" stroke-width="0.20">0</text>
<text transform="translate(415.48,402.60) scale(0.741,1)" font-size="10.60" font-weight="bold" fill="#111" stroke="#111" stroke-width="0.20">4</text><text transform="translate(420.25,402.60) scale(0.834,1)" font-size="10.60" font-weight="bold" fill="#111" stroke="#111" stroke-width="0.20">0</text>
<text transform="translate(441.65,402.60) scale(0.792,1)" font-size="10.60" font-weight="bold" fill="#111" stroke="#111" stroke-width="0.20">5</text><text transform="translate(446.55,402.60) scale(0.834,1)" font-size="10.60" font-weight="bold" fill="#111" stroke="#111" stroke-width="0.20">0</text>
<text transform="translate(468.00,402.60) scale(0.817,1)" font-size="10.60" font-weight="bold" fill="#111" stroke="#111" stroke-width="0.20">6</text><text transform="translate(472.95,402.60) scale(0.834,1)" font-size="10.60" font-weight="bold" fill="#111" stroke="#111" stroke-width="0.20">0</text>
<text transform="translate(491.74,403.50) scale(0.850,1)" font-size="14.00" font-weight="bold" fill="#111" stroke="#111" stroke-width="0.20">(</text><text transform="translate(496.31,403.50) scale(0.654,1)" font-size="14.00" font-weight="bold" fill="#111" stroke="#111" stroke-width="0.20">m</text><text transform="translate(505.13,403.50) scale(0.850,1)" font-size="14.00" font-weight="bold" fill="#111" stroke="#111" stroke-width="0.20">i</text><text transform="translate(509.54,403.50) scale(0.850,1)" font-size="14.00" font-weight="bold" fill="#111" stroke="#111" stroke-width="0.20">n</text><text transform="translate(517.90,403.50) scale(0.850,1)" font-size="14.00" font-weight="bold" fill="#111" stroke="#111" stroke-width="0.20">)</text>
<text transform="translate(381.14,419.70) scale(0.763,1)" font-size="14.00" font-weight="bold" fill="#111" stroke="#111" stroke-width="0.20">T</text><text transform="translate(389.43,419.70) scale(0.850,1)" font-size="14.00" font-weight="bold" fill="#111" stroke="#111" stroke-width="0.20">i</text><text transform="translate(393.71,419.70) scale(0.654,1)" font-size="14.00" font-weight="bold" fill="#111" stroke="#111" stroke-width="0.20">m</text><text transform="translate(401.17,419.70) scale(0.850,1)" font-size="14.00" font-weight="bold" fill="#111" stroke="#111" stroke-width="0.20">e</text>
</svg></div></body></html>
